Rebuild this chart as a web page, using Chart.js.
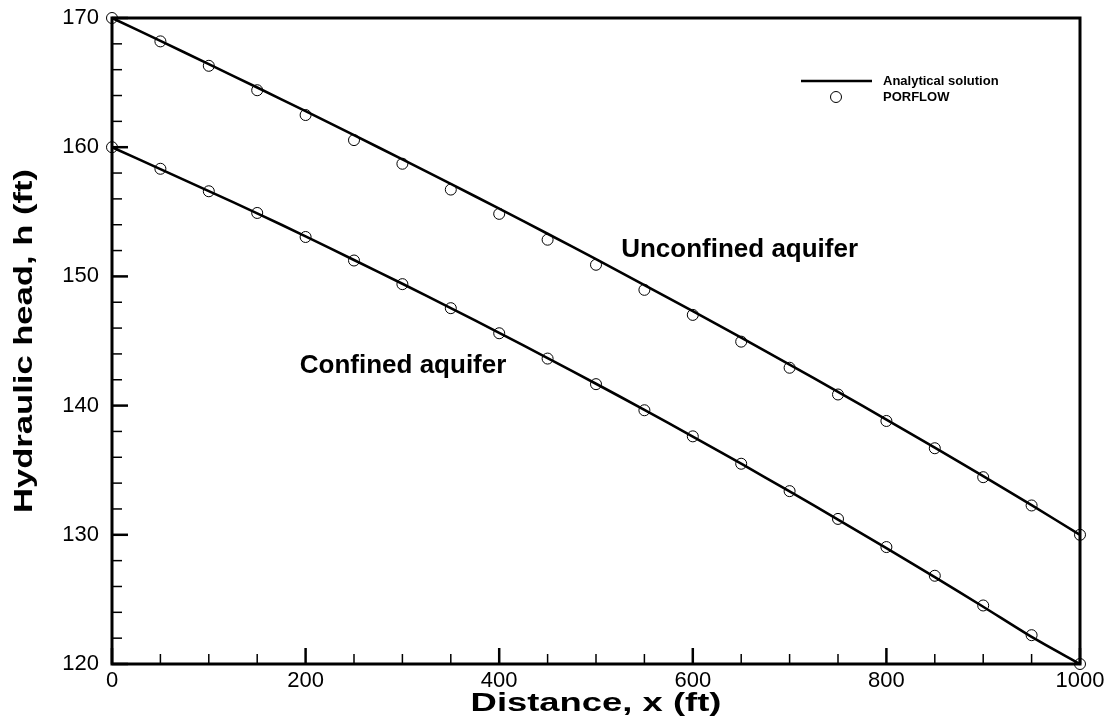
<!DOCTYPE html>
<html>
<head>
<meta charset="utf-8">
<script src="https://cdn.jsdelivr.net/npm/chart.js@4.4.1/dist/chart.umd.min.js"></script>
<style>
  html, body { margin: 0; padding: 0; background: #fff; }
  #wrap { width: 1112px; height: 725px; position: relative; }
</style>
</head>
<body>
<div id="wrap"><canvas id="c" width="1112" height="725"></canvas></div>
<script>
// ---- data ----
const distances = [0, 50, 100, 150, 200, 250, 300, 350, 400, 450, 500, 550, 600, 650, 700, 750, 800, 850, 900, 950, 1000];
const unconfinedAnalytical = [170, 168.23, 166.43, 164.62, 162.79, 160.93, 159.06, 157.16, 155.24, 153.30, 151.33, 149.33, 147.31, 145.26, 143.18, 141.07, 138.92, 136.75, 134.54, 132.29, 130];
const unconfinedPorflow   = [170, 168.19, 166.30, 164.41, 162.49, 160.55, 158.72, 156.72, 154.84, 152.84, 150.90, 148.96, 147.02, 144.95, 142.93, 140.86, 138.81, 136.70, 134.46, 132.27, 130.0];
const confinedAnalytical  = [160, 158.30, 156.60, 154.88, 153.10, 151.27, 149.43, 147.55, 145.63, 143.68, 141.69, 139.67, 137.60, 135.50, 133.36, 131.18, 128.97, 126.72, 124.43, 122.10, 120];
const confinedPorflow     = [160, 158.33, 156.59, 154.91, 153.05, 151.23, 149.40, 147.54, 145.60, 143.64, 141.66, 139.64, 137.62, 135.50, 133.38, 131.23, 129.05, 126.83, 124.53, 122.23, 120];
const xTickValues = [0, 200, 400, 600, 800, 1000];
const yTickValues = [120, 130, 140, 150, 160, 170];
const legendLabels = ['Analytical solution', 'PORFLOW'];
const curveLabels = ['Unconfined aquifer', 'Confined aquifer'];
const xTitle = 'Distance, x (ft)';
const yTitle = 'Hydraulic head, h (ft)';

const FONT = '"Liberation Sans", Arial, Helvetica, sans-serif';
const toXY = (ys) => ys.map((y, i) => ({ x: distances[i], y: y }));

const lineStyle = { showLine: true, borderColor: '#000', borderWidth: 2.6, pointRadius: 0, fill: false, tension: 0.3, clip: false };
const pointStyle = { showLine: false, pointStyle: 'circle', pointRadius: 5.5, pointBorderWidth: 1, pointBorderColor: '#000', pointBackgroundColor: 'rgba(0,0,0,0)', clip: false };

// draws a horizontally widened bold title, centred at (cx, cy), optionally rotated
function drawWideText(ctx, text, cx, cy, size, stretch, rotate) {
  ctx.save();
  ctx.translate(cx, cy);
  if (rotate) ctx.rotate(-Math.PI / 2);
  ctx.scale(stretch, 1);
  ctx.font = 'bold ' + size + 'px ' + FONT;
  ctx.textAlign = 'center';
  ctx.textBaseline = 'middle';
  ctx.fillStyle = '#000';
  ctx.fillText(text, 0, 0);
  ctx.restore();
}

const framePlugin = {
  id: 'frame',
  afterDatasetsDraw(chart) {
    const { ctx, chartArea: a, scales: { x, y } } = chart;
    ctx.save();
    ctx.strokeStyle = '#000';
    const tick = (x1, y1, x2, y2, w) => { ctx.lineWidth = w; ctx.beginPath(); ctx.moveTo(x1, y1); ctx.lineTo(x2, y2); ctx.stroke(); };
    for (let v = 120; v <= 170; v += 2) {
      const py = y.getPixelForValue(v);
      const major = v % 10 === 0;
      tick(a.left, py, a.left + (major ? 16 : 10), py, major ? 2.5 : 1.5);
    }
    for (let v = 0; v <= 1000; v += 50) {
      const px = x.getPixelForValue(v);
      const major = v % 200 === 0;
      tick(px, a.bottom, px, a.bottom - (major ? 16 : 10), major ? 2.5 : 1.5);
    }
    ctx.lineWidth = 3;
    ctx.strokeRect(a.left, a.top, a.right - a.left, a.bottom - a.top);

    ctx.fillStyle = '#000';
    ctx.font = 'bold 26px ' + FONT;
    ctx.textAlign = 'left';
    ctx.textBaseline = 'alphabetic';
    ctx.fillText(curveLabels[0], x.getPixelForValue(526), y.getPixelForValue(151.5));
    ctx.fillText(curveLabels[1], x.getPixelForValue(194), y.getPixelForValue(142.5));

    ctx.font = 'bold 13px ' + FONT;
    ctx.textBaseline = 'middle';
    ctx.lineWidth = 2.6;
    ctx.beginPath(); ctx.moveTo(801, 81); ctx.lineTo(872, 81); ctx.stroke();
    ctx.fillText(legendLabels[0], 883, 81);
    ctx.lineWidth = 1;
    ctx.beginPath(); ctx.arc(836, 97, 5.5, 0, Math.PI * 2); ctx.stroke();
    ctx.fillText(legendLabels[1], 883, 97);
    ctx.restore();

    // axis titles
    drawWideText(ctx, xTitle, (a.left + a.right) / 2, 704, 26, 1.4, false);
    drawWideText(ctx, yTitle, 25, (a.top + a.bottom) / 2, 26, 1.33, true);
  }
};

new Chart(document.getElementById('c'), {
  type: 'scatter',
  data: {
    datasets: [
      Object.assign({ label: 'Unconfined analytical', data: toXY(unconfinedAnalytical) }, lineStyle),
      Object.assign({ label: 'Confined analytical', data: toXY(confinedAnalytical) }, lineStyle),
      Object.assign({ label: 'Unconfined PORFLOW', data: toXY(unconfinedPorflow) }, pointStyle),
      Object.assign({ label: 'Confined PORFLOW', data: toXY(confinedPorflow) }, pointStyle)
    ]
  },
  options: {
    responsive: false,
    animation: false,
    devicePixelRatio: 1,
    layout: { padding: { left: 0, right: 32, top: 18, bottom: 0 } },
    plugins: { legend: { display: false }, tooltip: { enabled: false } },
    scales: {
      x: {
        type: 'linear', min: 0, max: 1000,
        afterFit(s) { s.height = 61; s.paddingLeft = 0; s.paddingRight = 0; },
        afterBuildTicks(s) { s.ticks = xTickValues.map(v => ({ value: v })); },
        grid: { display: false, drawTicks: false },
        border: { display: false },
        ticks: { color: '#000', padding: 4, maxRotation: 0, autoSkip: false, callback: (v) => String(v), font: { family: FONT, size: 22 } },
        title: { display: false }
      },
      y: {
        type: 'linear', min: 120, max: 170,
        afterFit(s) { s.width = 112; s.paddingTop = 0; s.paddingBottom = 0; },
        afterBuildTicks(s) { s.ticks = yTickValues.map(v => ({ value: v })); },
        grid: { display: false, drawTicks: false },
        border: { display: false },
        ticks: { color: '#000', padding: 13, autoSkip: false, callback: (v) => String(v), font: { family: FONT, size: 22 } },
        title: { display: false }
      }
    }
  },
  plugins: [framePlugin]
});
</script>
</body>
</html>
